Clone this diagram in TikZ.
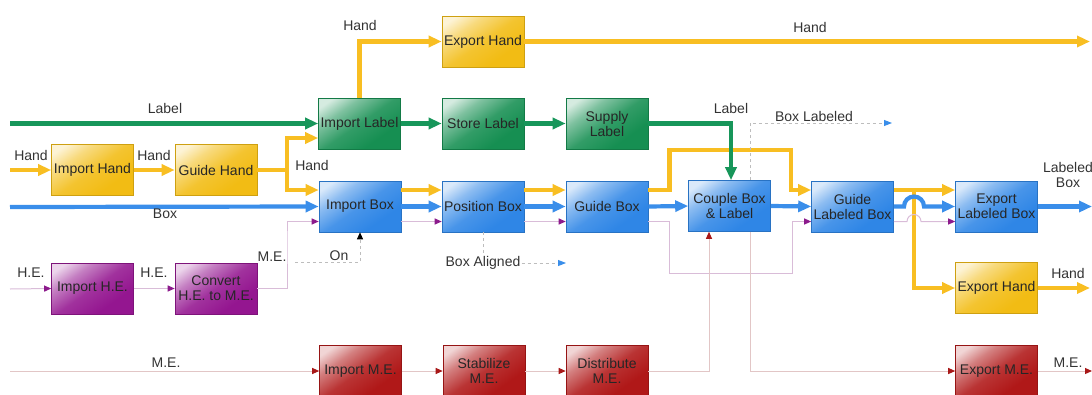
\documentclass[tikz,border=0pt]{standalone}
\usepackage{fontspec}
\setmainfont{Liberation Sans}
\usetikzlibrary{arrows.meta}

% flow colours
\definecolor{handc}{HTML}{F8BE22}
\definecolor{handbox}{HTML}{F2BC14}
\definecolor{labelc}{HTML}{17965A}
\definecolor{labelbox}{HTML}{168F52}
\definecolor{boxc}{HTML}{3A8EEA}
\definecolor{boxbox}{HTML}{2F86E6}
\definecolor{hebox}{HTML}{941690}
\definecolor{hetip}{HTML}{8C1A8C}
\definecolor{heline}{HTML}{D9BCD8}
\definecolor{mebox}{HTML}{B01818}
\definecolor{metip}{HTML}{A81818}
\definecolor{meline}{HTML}{E2C6C6}
\definecolor{dashc}{HTML}{BDBDBD}
\definecolor{txt}{HTML}{333333}
\colorlet{boxtint}{boxbox}

% block fill: pale highlight in one corner, full tint over most of the block
\pgfdeclareverticalshading[boxtint]{boxshade}{100bp}{%
  color(0bp)=(boxtint); color(32bp)=(boxtint);
  color(50bp)=(boxtint!88!white); color(66bp)=(boxtint!55!white);
  color(78bp)=(boxtint!18!white); color(100bp)=(boxtint!18!white)}

\newcommand\diagfont{\fontsize{14}{15}\selectfont}

\tikzset{
  fbox/.style={minimum width=82pt, minimum height=51pt, inner sep=0pt,
    align=center, text=black!85, line width=0.6pt},
  shadebox/.style={fbox, draw=#1!85!black,
    /utils/exec={\colorlet{boxtint}{#1}},
    shading=boxshade, shading angle=35},
  yelbox/.style={shadebox=handbox},
  grnbox/.style={shadebox=labelbox},
  blubox/.style={shadebox=boxbox},
  purbox/.style={shadebox=hebox},
  redbox/.style={shadebox=mebox},
  bigtip/.style={-{Triangle[length=13pt,width=11pt]}},
  handflow/.style={draw=handc, line width=4.5pt, bigtip},
  handline/.style={draw=handc, line width=4.5pt},
  labelflow/.style={draw=labelc, line width=4.5pt, bigtip},
  boxflow/.style={draw=boxc, line width=4.2pt, bigtip},
  heflow/.style={draw=heline, line width=1pt,
    -{Triangle[length=7pt,width=6pt,color=hetip]}},
  meflow/.style={draw=meline, line width=1pt,
    -{Triangle[length=7pt,width=6pt,color=metip]}},
  sigflow/.style={draw=dashc, line width=0.9pt, dash pattern=on 3pt off 3pt,
    -{Triangle[length=8pt,width=6pt,color=boxc]}},
  onflow/.style={draw=dashc, line width=0.9pt, dash pattern=on 3pt off 3pt,
    -{Triangle[length=7pt,width=6pt,color=black]}},
  sigline/.style={draw=dashc, line width=0.9pt, dash pattern=on 3pt off 3pt},
  lbl/.style={text=txt, inner sep=1pt, align=center},
}

\begin{document}
\begin{tikzpicture}[x=1pt, y=-1pt, font=\diagfont]
\useasboundingbox (0,0) rectangle (1092,394);

% ---------- function blocks ----------
\node[yelbox] (ih)  at (92.5,170)   {Import Hand};
\node[yelbox] (gh)  at (216,170)    {Guide Hand};
\node[yelbox] (eh1) at (483,41.5)   {Export Hand};
\node[yelbox] (eh2) at (996.5,288)  {Export Hand};

\node[grnbox] (il)  at (359.5,123.5) {Import Label};
\node[grnbox] (sl)  at (483,123.5)   {Store Label};
\node[grnbox] (sup) at (607,123.5)   {Supply\\Label};

\node[blubox] (ib)  at (360,206.5)   {Import Box};
\node[blubox] (pb)  at (483,206.5)   {Position Box};
\node[blubox] (gb)  at (607,206.5)   {Guide Box};
\node[blubox] (cb)  at (729.5,206)   {Couple Box\\\& Label};
\node[blubox] (glb) at (852.5,206.5) {Guide\\Labeled Box};
\node[blubox] (elb) at (996.5,206.5) {Export\\Labeled Box};

\node[purbox] (ihe) at (92.5,288.5)  {Import H.E.};
\node[purbox] (cv)  at (216,288.5)   {Convert\\H.E. to M.E.};

\node[redbox] (ime) at (360.5,371)   {Import M.E.};
\node[redbox] (sme) at (484,371)     {Stabilize\\M.E.};
\node[redbox] (dme) at (607,371)     {Distribute\\M.E.};
\node[redbox] (eme) at (996.5,371)   {Export M.E.};

% ---------- free ends and branch points ----------
\coordinate (handin)  at (10,170);
\coordinate (labelin) at (10,123.5);
\coordinate (boxin)   at (10,207);
\coordinate (hein)    at (10,289);
\coordinate (mein)    at (10,371);
\coordinate (hsplit)  at (287,170);
\coordinate (hout1)   at (1090,41.5);
\coordinate (hout2)   at (1090,288);
\coordinate (boxout)  at (1092,206.5);
\coordinate (meout)   at (1092,371);
\coordinate (hbranch) at (914,190);
\coordinate (onsrc)   at (295,262);
\coordinate (alout)   at (566,263);
\coordinate (lbout)   at (892,123);

% ---------- hand flow ----------
\draw[handflow] (handin) -- (ih.west);
\draw[handflow] (ih.east) -- (gh.west);
\draw[handline] (gh.east) -- (hsplit);
\draw[handflow] (hsplit) |- ([yshift=-14.5pt]il.west);
\draw[handflow] (hsplit) |- ([yshift=16.5pt]ib.west);
\draw[handflow] (il.north) |- (eh1.west);
\draw[handflow] (eh1.east) -- (hout1);
\draw[handflow] ([yshift=16.5pt]ib.east) -- ([yshift=16.5pt]pb.west);
\draw[handflow] ([yshift=16.5pt]pb.east) -- ([yshift=16.5pt]gb.west);
\draw[handflow] ([yshift=16.5pt]gb.east) -- ++(21,0) |- (791,150)
  |- ([yshift=16.5pt]glb.west);
\draw[handflow] ([yshift=16.5pt]glb.east) -- ([yshift=16.5pt]elb.west);
\draw[handflow] (hbranch) |- (eh2.west);
\draw[handflow] (eh2.east) -- (hout2);

% ---------- label flow ----------
\draw[labelflow] (labelin) -- (il.west);
\draw[labelflow] (il.east) -- (sl.west);
\draw[labelflow] (sl.east) -- (sup.west);
\draw[labelflow] (sup.east) -| ([xshift=1.5pt]cb.north);

% ---------- box flow ----------
\draw[boxflow] (boxin) -- (ib.west);
\draw[boxflow] (ib.east) -- (pb.west);
\draw[boxflow] (pb.east) -- (gb.west);
\draw[boxflow] (gb.east) -- (cb.west);
\draw[boxflow] (cb.east) -- (glb.west);
\draw[boxflow] (glb.east) -- (904,206.5)
  arc[start angle=180, end angle=0, radius=10pt] -- (elb.west);
\draw[boxflow] (elb.east) -- (boxout);

% ---------- human energy / material energy ----------
\draw[heflow] (hein) -- (ihe.west);
\draw[heflow] (ihe.east) -- (cv.west);
\draw[heflow] (cv.east) -| (287,240) |- ([yshift=-15pt]ib.west);
\draw[heflow] ([yshift=-15pt]ib.east) -- ([yshift=-15pt]pb.west);
\draw[heflow] ([yshift=-15pt]pb.east) -- ([yshift=-15pt]gb.west);
\draw[heflow] ([yshift=-15pt]gb.east) -- ++(21,0) |- (792,273)
  |- ([yshift=-15pt]glb.west);
\draw[heflow] ([yshift=-15pt]glb.east) -- (907,221.5)
  arc[start angle=180, end angle=0, radius=7pt] -- ([yshift=-15pt]elb.west);

\draw[meflow] (mein) -- (ime.west);
\draw[meflow] (ime.east) -- (sme.west);
\draw[meflow] (sme.east) -- (dme.west);
\draw[meflow] (dme.east) -| ([xshift=-20.5pt]cb.south);
\draw[meflow] ([xshift=20.5pt]cb.south) |- (eme.west);
\draw[meflow] (eme.east) -- (meout);

% ---------- signals ----------
\draw[onflow] (onsrc) -| (ib.south);
\node[lbl] (al) at (483,263) {Box Aligned};
\draw[sigline] (pb.south) -- (al.north);
\draw[sigflow] (al.east) -- (alout);
\draw[sigflow] ([xshift=20.5pt]cb.north) |- (lbout);

% ---------- flow names ----------
\node[lbl] at (31,155)   {Hand};
\node[lbl] at (154,155)  {Hand};
\node[lbl] at (312,165)  {Hand};
\node[lbl] at (360,25)   {Hand};
\node[lbl] at (810,27)   {Hand};
\node[lbl] at (1068,273) {Hand};
\node[lbl] at (165,108)  {Label};
\node[lbl] at (731,108)  {Label};
\node[lbl] at (165,214)  {Box};
\node[lbl] at (814,116)  {Box Labeled};
\node[lbl] at (1068,175) {Labeled\\Box};
\node[lbl] at (31,273)   {H.E.};
\node[lbl] at (154,273)  {H.E.};
\node[lbl] at (272,257)  {M.E.};
\node[lbl] at (339,256)  {On};
\node[lbl] at (166,363)  {M.E.};
\node[lbl] at (1068,363) {M.E.};
\end{tikzpicture}
\end{document}
